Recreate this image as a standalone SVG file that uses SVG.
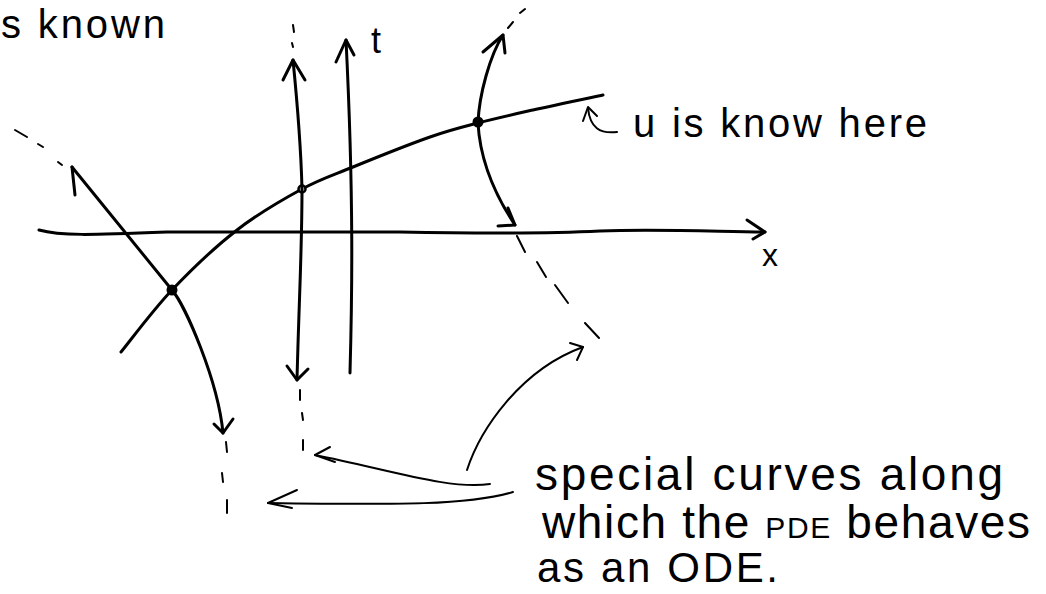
<svg xmlns="http://www.w3.org/2000/svg" width="1046" height="594" viewBox="0 0 1046 594">
<style>
.s{fill:none;stroke:#000;stroke-width:3;stroke-linecap:round;stroke-linejoin:round}
.d{fill:none;stroke:#000;stroke-width:2;stroke-linecap:round}
.a{fill:none;stroke:#000;stroke-width:2;stroke-linecap:round;stroke-linejoin:round}
.t{font-family:"Liberation Sans",Arial,sans-serif;fill:#000}
</style>
<rect width="1046" height="594" fill="#fff"/>
<g id="x-axis">
<path class="s" d="M39,230 C60,236 90,235 167,232 L400,232 C500,234 560,233 600,231 C650,229 700,231 765,232"/>
<path class="s" d="M747,220 L765,232 L753,239"/>
<text class="t" x="762" y="266" font-size="32">x</text>
</g>
<g id="t-axis">
<path class="s" d="M350,373 C352,300 354,200 346,40"/>
<path class="s" d="M336,62 L346,40 L354,55"/>
<text class="t" x="371" y="53" font-size="36">t</text>
</g>
<g id="known-curve">
<path class="s" d="M121,352 C129.5,341.7 152.7,310.3 172,290 C191.3,269.7 215.3,246.8 237,230 C258.7,213.2 282.7,199.5 302,189 C321.3,178.5 331.7,175.7 353,167 C374.3,158.3 409.2,144.3 430,137 C450.8,129.7 460.8,127.5 478,123 C495.2,118.5 512.2,114.7 533,110 C553.8,105.3 591.3,97.5 603,95"/>
<circle cx="172" cy="290" r="5.5" fill="#000"/>
<circle cx="478" cy="122" r="5.5" fill="#000"/>
<circle cx="302" cy="189" r="3.5" fill="#fff" stroke="#000" stroke-width="2.5"/>
</g>
<g id="label-known-here">
<path class="a" d="M617,132 C600,134 590,128 588,108"/>
<path class="a" d="M583,121 L588,107 L597,116"/>
<text class="t" x="633" y="137" font-size="40" textLength="294" lengthAdjust="spacing">u is know here</text>
</g>
<g id="label-s-known">
<text class="t" x="1" y="38" font-size="40" textLength="164" lengthAdjust="spacing">s known</text>
</g>
<g id="char-left">
<path class="s" d="M172,290 L72,167"/>
<path class="s" d="M72,167 L75,195"/>
<path class="d" d="M58,162 L62,165 M38,144 L43,147 M15,130 L27,137"/>
<path class="s" d="M172,290 C185,305 218,380 223,433"/>
<path class="s" d="M214,424 L223,433 L233,419"/>
<path class="d" d="M226,442 L227,452 M222,473 L223,482 M227,500 L227,513"/>
</g>
<g id="char-middle">
<path class="s" d="M297,380 C299,300 302,250 302,189 C301,150 297,100 293,60"/>
<path class="s" d="M283,80 L293,60 L305,80"/>
<path class="s" d="M287,366 L297,380 L308,369"/>
<path class="d" d="M293,25 L294,32 M292,43 L293,47"/>
<path class="d" d="M300,390 L300,400 M302,413 L303,420 M303,440 L303,450"/>
</g>
<g id="char-right">
<path class="s" d="M478,123 C479,95 490,55 503,35"/>
<path class="s" d="M483,52 L503,35 L505,53"/>
<path class="d" d="M508,28 L513,22 M520,13 L525,9"/>
<path class="s" d="M478,123 C480,160 495,195 515,225"/>
<path class="s" d="M498,226 L515,225 L508,208"/>
<path class="d" d="M517,236 L525,252 M537,262 L546,277 M555,285 L568,303 M585,323 L599,338"/>
</g>
<g id="label-special">
<text class="t" x="535" y="490" font-size="46" textLength="468" lengthAdjust="spacing">special curves along</text>
<text class="t" x="542" y="538" font-size="46" textLength="488" lengthAdjust="spacing">which the <tspan font-size="30">PDE</tspan> behaves</text>
<text class="t" x="537" y="582" font-size="42" textLength="241" lengthAdjust="spacing">as an ODE.</text>
</g>
<g id="connectors">
<path class="a" d="M467,470 C480,430 520,370 583,347"/>
<path class="a" d="M570,343 L583,347 L577,360"/>
<path class="a" d="M490,484 C450,490 390,470 315,455"/>
<path class="a" d="M330,447 L315,455 L335,462"/>
<path class="a" d="M513,492 C470,505 400,505 268,503"/>
<path class="a" d="M297,490 L268,503 L292,508"/>
</g>
</svg>
